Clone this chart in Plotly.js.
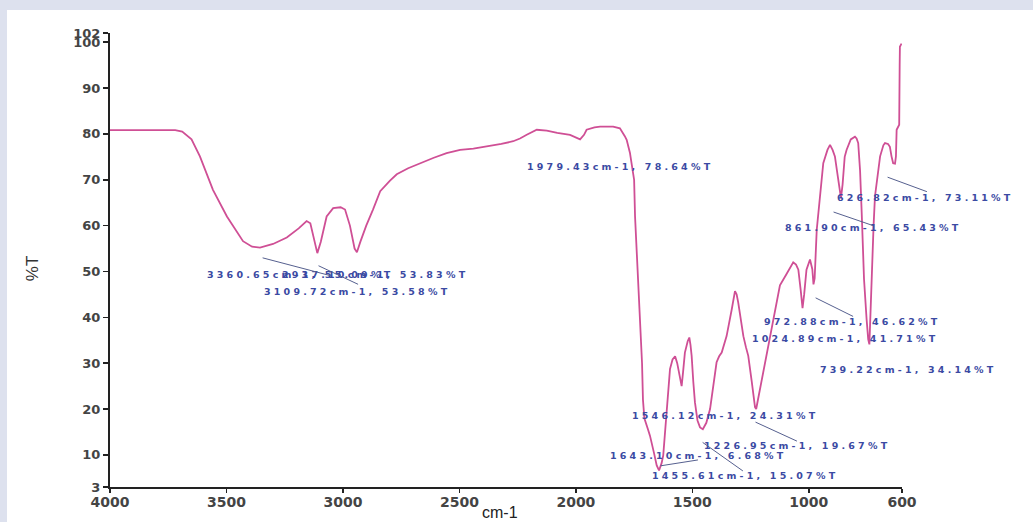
<!DOCTYPE html>
<html>
<head>
<meta charset="utf-8">
<script src="https://cdn.plot.ly/plotly-3.0.1.min.js"></script>
<style>
  html, body { margin: 0; padding: 0; background: #dde1ee; width: 1033px; height: 522px; overflow: hidden; }
  #chart { position: absolute; left: 7px; top: 10px; width: 1026px; height: 512px; background: #ffffff; }
  .annotation:not([data-index="0"]):not([data-index="1"]) .annotation-text { letter-spacing: 3.2px; }
</style>
</head>
<body>
<div id="chart"></div>
<script>
// ---- data ----
const wavenumbers = [
  4000, 3900, 3800, 3720, 3690, 3650, 3614, 3558, 3498, 3429, 3390, 3356, 3300, 3241, 3190, 3156,
  3140, 3125, 3110, 3095, 3070, 3042, 3010, 2991, 2970, 2950, 2940, 2925, 2900, 2871, 2840, 2798,
  2769, 2720, 2669, 2610, 2555, 2497, 2440, 2383, 2320, 2269, 2240, 2211, 2168, 2125, 2080, 2025,
  2000, 1982, 1965, 1954, 1920, 1896, 1840, 1811, 1790, 1782, 1768, 1750, 1746, 1740, 1735, 1727,
  1722, 1716, 1712, 1706, 1690, 1682, 1665, 1653, 1643, 1632, 1625, 1617, 1610, 1603, 1596, 1585,
  1574, 1565, 1560, 1552, 1546, 1540, 1532, 1520, 1513, 1508, 1503, 1496, 1489, 1478, 1467, 1455,
  1440, 1424, 1410, 1396, 1385, 1374, 1353, 1340, 1331, 1317, 1310, 1303, 1292, 1281, 1270, 1260,
  1245, 1231, 1226, 1215, 1202, 1185, 1167, 1150, 1138, 1124, 1095, 1067, 1055, 1045, 1035, 1027,
  1020, 1010, 995, 985, 980, 975, 966, 950, 938, 920, 909, 898, 888, 875, 862, 855,
  846, 838, 820, 802, 795, 788, 780, 773, 763, 752, 745, 740, 737, 730, 722, 716,
  705, 694, 680, 673, 660, 652, 645, 638, 630, 626, 623, 615, 612, 610, 609, 602
];
const transmittance = [
  80.8, 80.8, 80.8, 80.8, 80.5, 78.8, 75.1, 67.8, 62.0, 56.6, 55.4, 55.2, 56.0, 57.4, 59.4, 61.0,
  60.5, 57.0, 54.0, 56.5, 62.0, 63.8, 64.0, 63.5, 60.0, 55.0, 54.2, 56.5, 60.0, 63.5, 67.5, 69.8,
  71.2, 72.5, 73.6, 74.8, 75.8, 76.5, 76.8, 77.2, 77.8, 78.4, 79.0, 79.8, 80.9, 80.7, 80.2, 79.8,
  79.3, 78.8, 79.8, 80.9, 81.4, 81.6, 81.6, 81.2, 79.5, 78.7, 75.9, 70.0, 62.0, 56.0, 50.0, 42.0,
  38.0, 30.0, 22.0, 18.0, 15.5, 14.2, 10.5, 7.7, 6.6, 8.2, 9.9, 15.0, 19.3, 25.0, 28.7, 30.8,
  31.5, 30.0, 28.7, 26.0, 25.0, 28.0, 32.3, 34.8, 35.6, 34.0, 31.6, 26.0, 21.5, 17.5, 16.0, 15.6,
  17.0, 20.0, 25.5, 30.2, 31.5, 32.3, 35.9, 39.0, 41.7, 45.7, 45.0, 43.2, 39.0, 35.9, 33.5, 31.6,
  26.0, 20.4, 20.0, 23.0, 26.5, 31.0, 35.9, 40.0, 43.2, 47.0, 49.5, 52.0, 51.5, 50.4, 46.0, 42.0,
  45.0, 50.4, 52.6, 50.5, 47.2, 48.5, 59.1, 68.0, 73.6, 76.5, 77.6, 76.5, 75.1, 70.5, 66.0, 69.0,
  75.0, 76.5, 78.8, 79.4, 79.0, 78.0, 72.0, 62.8, 48.3, 39.6, 35.2, 34.1, 38.9, 52.0, 60.0, 66.4,
  71.5, 75.1, 77.5, 78.0, 77.8, 77.2, 75.1, 73.6, 73.5, 75.1, 80.9, 81.5, 82.0, 95.0, 99.0, 99.7
];
const xTickVals = [4000, 3500, 3000, 2500, 2000, 1500, 1000, 600];
const xTickText = ["4000", "3500", "3000", "2500", "2000", "1500", "1000", "600"];
const yTickVals = [3, 10, 20, 30, 40, 50, 60, 70, 80, 90, 100, 102];
const yTickText = ["3", "10", "20", "30", "40", "50", "60", "70", "80", "90", "100", "102"];
const peakLabels = [
  "3360.65cm-1, 55.09%T",
  "2937.10cm-1, 53.83%T",
  "3109.72cm-1, 53.58%T",
  "1979.43cm-1, 78.64%T",
  "626.82cm-1, 73.11%T",
  "861.90cm-1, 65.43%T",
  "972.88cm-1, 46.62%T",
  "1024.89cm-1, 41.71%T",
  "739.22cm-1, 34.14%T",
  "1546.12cm-1, 24.31%T",
  "1226.95cm-1, 19.67%T",
  "1643.10cm-1, 6.68%T",
  "1455.61cm-1, 15.07%T"
];

// ---- layout helpers (positions of labels & leader lines, in axis units) ----
const labelPos = [
  [3592, 49.35], [3270, 49.35], [3347, 45.65], [2218, 72.8], [888, 66.1], [1111, 59.6],
  [1201, 39.1], [1252, 35.4], [960, 28.7], [1768, 18.7], [1458, 12.0], [1862, 9.8], [1682, 5.4]
];
const leaders = [
  [3347, 53.0, 3055, 49.1],
  [3107, 51.3, 2935, 47.2],
  [664, 70.6, 493, 67.4],
  [896, 63.0, 724, 60.0],
  [973, 44.3, 810, 40.2],
  [1231, 17.2, 1051, 13.0],
  [1639, 7.6, 1476, 8.9],
  [1458, 12.8, 1283, 6.5]
];

const annotations = [
  { text: "cm-1", xref: "paper", yref: "paper", x: 0.4924, y: -0.057, xanchor: "center", yanchor: "middle",
    showarrow: false, font: { family: "Liberation Sans, Arial", size: 16, color: "#222" } },
  { text: "%T", xref: "paper", yref: "paper", x: -0.0985, y: 0.482, xanchor: "center", yanchor: "middle",
    textangle: -90, showarrow: false, font: { family: "Liberation Sans, Arial", size: 17, color: "#333" } }
];
peakLabels.forEach((t, i) => {
  annotations.push({
    text: t, xref: "x", yref: "y", x: labelPos[i][0], y: labelPos[i][1],
    xanchor: "left", yanchor: "middle", align: "left", showarrow: false,
    font: { family: "DejaVu Sans", size: 9.5, weight: "bold", color: "#3b4aa3" }
  });
});
leaders.forEach(l => {
  annotations.push({
    text: " ", xref: "x", yref: "y", axref: "x", ayref: "y",
    ax: l[0], ay: l[1], x: l[2], y: l[3],
    showarrow: true, arrowhead: 0, arrowwidth: 1, arrowcolor: "#56608f",
    standoff: 0, startstandoff: 0, font: { size: 1 }, borderpad: 0
  });
});

const trace = {
  x: wavenumbers, y: transmittance, type: "scatter", mode: "lines",
  line: { color: "#cf4f95", width: 1.8 }, hoverinfo: "skip"
};

const layout = {
  width: 1026, height: 512,
  margin: { l: 103, r: 131, t: 23, b: 35, pad: 0 },
  paper_bgcolor: "#ffffff", plot_bgcolor: "#ffffff",
  showlegend: false,
  xaxis: {
    range: [4000, 600], tickmode: "array", tickvals: xTickVals, ticktext: xTickText,
    showgrid: false, zeroline: false, showline: true, linecolor: "#222", linewidth: 2,
    ticks: "outside", ticklen: 4, tickwidth: 1.5, tickcolor: "#222", ticklabelstandoff: -3,
    tickfont: { family: "DejaVu Sans", size: 14, weight: "bold", color: "#444" }
  },
  yaxis: {
    range: [3, 102], tickmode: "array", tickvals: yTickVals, ticktext: yTickText,
    showgrid: false, zeroline: false, showline: true, linecolor: "#222", linewidth: 2,
    ticks: "outside", ticklen: 5, tickwidth: 1.5, tickcolor: "#222",
    tickfont: { family: "DejaVu Sans", size: 13, weight: "bold", color: "#444" }
  },
  annotations: annotations
};

Plotly.newPlot("chart", [trace], layout, { staticPlot: true, displayModeBar: false });
</script>
</body>
</html>
